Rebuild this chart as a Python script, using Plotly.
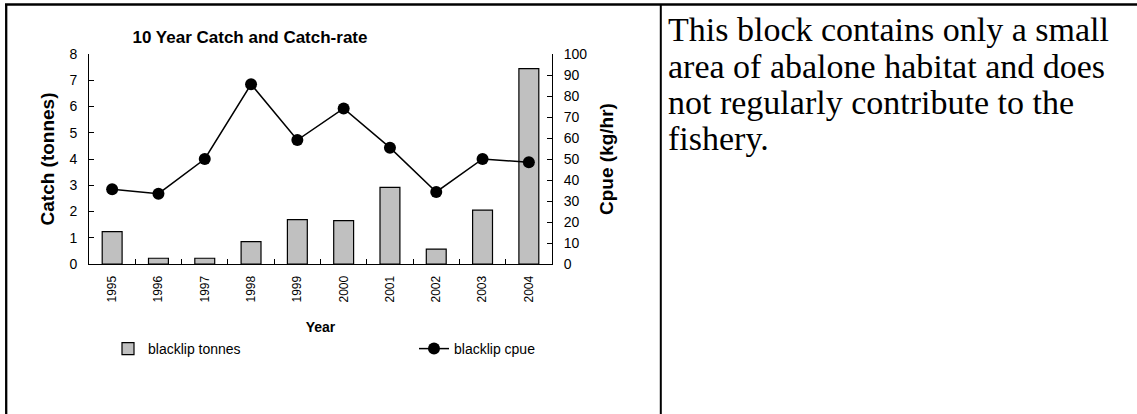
import plotly.graph_objects as go

years = ["1995", "1996", "1997", "1998", "1999", "2000", "2001", "2002", "2003", "2004"]
catch_tonnes = [1.23, 0.22, 0.22, 0.85, 1.69, 1.65, 2.92, 0.57, 2.05, 7.44]
cpue = [35.6, 33.5, 50.0, 85.6, 59.0, 74.1, 55.4, 34.3, 50.0, 48.4]
text_lines = [
    "This block contains only a small",
    "area of abalone habitat and does",
    "not regularly contribute to the",
    "fishery.",
]

W, H = 1137, 414
def px(x):
    return x / W
def py(y):
    return (H - y) / H

AR = "Arial, Liberation Sans, sans-serif"
TNR = "Times New Roman, Liberation Serif, serif"

fig = go.Figure()
fig.add_trace(go.Bar(
    x=years, y=catch_tonnes, name="blacklip tonnes",
    marker=dict(color="#C0C0C0", line=dict(color="black", width=1.2)),
    width=0.43, yaxis="y",
))
fig.add_trace(go.Scatter(
    x=years, y=cpue, name="blacklip cpue", mode="lines+markers",
    line=dict(color="black", width=1.5),
    marker=dict(color="black", size=12, symbol="circle"),
    yaxis="y2",
))

axis_common = dict(showgrid=False, zeroline=False, showline=True, linecolor="black",
                   linewidth=1, ticks="inside", ticklen=5, tickcolor="black")

fig.update_layout(
    template="none",
    width=W, height=H,
    margin=dict(l=0, r=0, t=0, b=0, autoexpand=False),
    paper_bgcolor="white", plot_bgcolor="white",
    showlegend=True,
    font=dict(family=AR, size=13, color="black"),
    title=dict(text="<b>10 Year Catch and Catch-rate</b>", x=px(250), xanchor="center",
               y=py(37), yanchor="middle", font=dict(family=AR, size=17, color="black")),
    xaxis=dict(domain=[px(89), px(552)], type="category", range=[-0.5, 9.5],
               tickangle=-90, tickson="boundaries", ticklabelstandoff=6,
               tickfont=dict(family=AR, size=12, color="black"),
               title=dict(text="<b>Year</b>", standoff=20, font=dict(family=AR, size=14)),
               **axis_common),
    yaxis=dict(domain=[py(264), py(54)], range=[0, 8], dtick=1, ticklabelstandoff=8,
               tickfont=dict(family=AR, size=14, color="black"),
               title=dict(text="<b>Catch (tonnes)</b>", standoff=9, font=dict(family=AR, size=19)),
               **axis_common),
    yaxis2=dict(range=[0, 100], dtick=10, overlaying="y", side="right", anchor="x",
                ticklabelstandoff=8,
                tickfont=dict(family=AR, size=14, color="black"),
                title=dict(text="<b>Cpue (kg/hr)</b>", standoff=13, font=dict(family=AR, size=19)),
                **axis_common),
    legend=dict(orientation="h", x=px(108), y=py(349), xanchor="left", yanchor="middle",
                entrywidth=261, entrywidthmode="pixels",
                font=dict(family=AR, size=14, color="black"), bgcolor="rgba(0,0,0,0)"),
)

# table borders
fig.add_shape(type="line", xref="paper", yref="paper", x0=px(5), x1=1.0, y0=py(4.5), y1=py(4.5),
              line=dict(color="black", width=2.3))
fig.add_shape(type="line", xref="paper", yref="paper", x0=px(6.2), x1=px(6.2), y0=0, y1=py(4),
              line=dict(color="black", width=2.3))
fig.add_shape(type="line", xref="paper", yref="paper", x0=px(660.8), x1=px(660.8), y0=0, y1=py(4),
              line=dict(color="black", width=2))

# right cell text
line_y = [30, 66, 102, 138]
for t, yy in zip(text_lines, line_y):
    fig.add_annotation(text=t, xref="paper", yref="paper", x=px(666), y=py(yy),
                       xanchor="left", yanchor="middle", showarrow=False,
                       font=dict(family=TNR, size=34, color="black"))

pin = ("var d=document.getElementById('{plot_id}');"
       "document.documentElement.style.margin='0';document.body.style.margin='0';"
       "document.body.style.overflow='hidden';"
       "d.style.position='fixed';d.style.left='0px';d.style.top='0px';")
fig.write_html("out.html", post_script=pin, config={"displayModeBar": False})
